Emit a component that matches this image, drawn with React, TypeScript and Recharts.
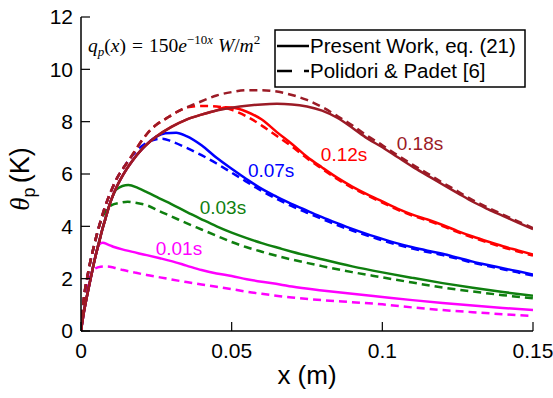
import React from 'react';
import { LineChart, Line, XAxis, YAxis, Label, ReferenceDot, Customized } from 'recharts';

type Pt = [number, number];

// x ticks (m) and y ticks (K)
const xTicks = [0, 0.05, 0.1, 0.15];
const yTicks = [0, 2, 4, 6, 8, 10, 12];

// common rising part of the solid curves
const solidRise: Pt[] = [
  [0, 0], [0.001, 0.75], [0.002, 1.35], [0.003, 1.9], [0.004, 2.45], [0.005, 2.95],
  [0.006, 3.4], [0.007, 3.85], [0.008, 4.25], [0.009, 4.65], [0.01, 5.0], [0.012, 5.55],
  [0.014, 5.98], [0.017, 6.5], [0.02, 6.92], [0.025, 7.43], [0.03, 7.8], [0.035, 8.08],
  [0.04, 8.27], [0.045, 8.43],
];

// common rising part of the dashed curves
const dashedRise: Pt[] = [
  [0, 0], [0.001, 1.3], [0.002, 2.0], [0.003, 2.6], [0.004, 3.1], [0.006, 4.0],
  [0.008, 4.75], [0.01, 5.35], [0.012, 5.85], [0.014, 6.22], [0.016, 6.55], [0.018, 6.9],
  [0.02, 7.25], [0.022, 7.55], [0.025, 7.88], [0.028, 8.1], [0.03, 8.25], [0.033, 8.44],
  [0.035, 8.54],
];

const upTo = (pts: Pt[], xMax: number) => pts.filter((p) => p[0] <= xMax);

// t = 0.01 s
const magentaSolid: Pt[] = [
  ...upTo(solidRise, 0.005),
  [0.006, 3.3], [0.0072, 3.37], [0.009, 3.3], [0.0107, 3.22], [0.015, 3.08], [0.0218, 2.9],
  [0.0262, 2.78], [0.03, 2.67], [0.035, 2.5], [0.04, 2.33], [0.045, 2.2], [0.05, 2.1],
  [0.055, 1.98], [0.06, 1.88], [0.066, 1.78], [0.07, 1.7], [0.08, 1.55], [0.09, 1.42],
  [0.1, 1.3], [0.11, 1.18], [0.12, 1.07], [0.13, 0.97], [0.14, 0.88], [0.15, 0.8],
];
const magentaDashed: Pt[] = [
  [0, 0], [0.001, 1.1], [0.002, 1.7], [0.003, 2.07], [0.0046, 2.38], [0.0065, 2.46],
  [0.0085, 2.47], [0.011, 2.42], [0.014, 2.33], [0.018, 2.23], [0.0218, 2.14], [0.0262, 2.05],
  [0.03, 1.97], [0.035, 1.87], [0.04, 1.78], [0.045, 1.69], [0.05, 1.6], [0.055, 1.5],
  [0.06, 1.42], [0.066, 1.33], [0.07, 1.28], [0.08, 1.18], [0.09, 1.1], [0.1, 1.02],
  [0.11, 0.9], [0.12, 0.8], [0.13, 0.72], [0.14, 0.64], [0.15, 0.57],
];

// t = 0.03 s
const greenSolid: Pt[] = [
  ...upTo(solidRise, 0.01),
  [0.0118, 5.42], [0.0157, 5.58], [0.019, 5.46], [0.022, 5.3], [0.026, 5.07], [0.03, 4.85],
  [0.035, 4.55], [0.04, 4.27], [0.045, 4.0], [0.05, 3.76], [0.055, 3.55], [0.06, 3.36],
  [0.066, 3.16], [0.07, 3.03], [0.08, 2.74], [0.09, 2.47], [0.1, 2.24], [0.11, 2.03],
  [0.12, 1.83], [0.13, 1.65], [0.14, 1.49], [0.15, 1.35],
];
const greenDashed: Pt[] = [
  ...upTo(dashedRise, 0.006),
  [0.008, 4.55], [0.01, 4.8], [0.013, 4.9], [0.0155, 4.94], [0.018, 4.9], [0.022, 4.8],
  [0.026, 4.58], [0.03, 4.38], [0.035, 4.12], [0.04, 3.88], [0.045, 3.64], [0.05, 3.4],
  [0.055, 3.2], [0.06, 3.03], [0.066, 2.84], [0.07, 2.73], [0.08, 2.48], [0.09, 2.25],
  [0.1, 2.05], [0.11, 1.85], [0.12, 1.66], [0.13, 1.51], [0.14, 1.37], [0.15, 1.25],
];

// t = 0.07 s
const blueSolid: Pt[] = [
  ...upTo(solidRise, 0.025),
  [0.028, 7.56], [0.0316, 7.58], [0.035, 7.45], [0.04, 7.1], [0.045, 6.62], [0.05, 6.2],
  [0.055, 5.8], [0.06, 5.43], [0.065, 5.13], [0.07, 4.85], [0.075, 4.6], [0.08, 4.35],
  [0.085, 4.12], [0.09, 3.9], [0.095, 3.7], [0.1, 3.52], [0.105, 3.35], [0.11, 3.2],
  [0.115, 3.07], [0.12, 2.95], [0.125, 2.8], [0.13, 2.65], [0.135, 2.52], [0.14, 2.4],
  [0.145, 2.28], [0.15, 2.16],
];
const blueDashed: Pt[] = [
  ...upTo(dashedRise, 0.016),
  [0.02, 7.05], [0.024, 7.3], [0.027, 7.35], [0.03, 7.25], [0.035, 7.0], [0.04, 6.72],
  [0.045, 6.4], [0.05, 6.05], [0.055, 5.7], [0.06, 5.35], [0.065, 5.05], [0.07, 4.77],
  [0.075, 4.52], [0.08, 4.28], [0.085, 4.05], [0.09, 3.84], [0.095, 3.65], [0.1, 3.46],
  [0.105, 3.3], [0.11, 3.15], [0.115, 3.02], [0.12, 2.9], [0.125, 2.76], [0.13, 2.61],
  [0.135, 2.48], [0.14, 2.36], [0.145, 2.24], [0.15, 2.12],
];

// t = 0.12 s
const redSolid: Pt[] = [
  ...upTo(solidRise, 0.045),
  [0.048, 8.55], [0.05, 8.54], [0.055, 8.38], [0.06, 8.08], [0.065, 7.6], [0.07, 7.15],
  [0.075, 6.66], [0.08, 6.25], [0.085, 5.86], [0.09, 5.52], [0.095, 5.22], [0.1, 4.95],
  [0.105, 4.68], [0.11, 4.45], [0.115, 4.26], [0.12, 4.05], [0.125, 3.82], [0.13, 3.61],
  [0.135, 3.42], [0.14, 3.24], [0.145, 3.08], [0.15, 2.92],
];
const redDashed: Pt[] = [
  ...upTo(dashedRise, 0.035),
  [0.04, 8.6], [0.045, 8.58], [0.05, 8.45], [0.055, 8.2], [0.06, 7.85], [0.065, 7.45],
  [0.07, 7.05], [0.075, 6.6], [0.08, 6.2], [0.085, 5.81], [0.09, 5.47], [0.095, 5.18],
  [0.1, 4.91], [0.105, 4.64], [0.11, 4.41], [0.115, 4.22], [0.12, 4.01], [0.125, 3.78],
  [0.13, 3.57], [0.135, 3.38], [0.14, 3.2], [0.145, 3.04], [0.15, 2.88],
];

// t = 0.18 s
const darkRedSolid: Pt[] = [
  ...solidRise,
  [0.05, 8.53], [0.055, 8.61], [0.06, 8.66], [0.065, 8.68], [0.07, 8.66], [0.075, 8.58],
  [0.08, 8.42], [0.085, 8.15], [0.09, 7.77], [0.095, 7.36], [0.1, 7.02], [0.105, 6.65],
  [0.11, 6.28], [0.115, 5.94], [0.12, 5.6], [0.125, 5.27], [0.13, 4.94], [0.135, 4.66],
  [0.14, 4.4], [0.145, 4.14], [0.15, 3.89],
];
const darkRedDashed: Pt[] = [
  ...dashedRise,
  [0.037, 8.64], [0.04, 8.78], [0.045, 9.0], [0.05, 9.13], [0.055, 9.2], [0.06, 9.2],
  [0.065, 9.15], [0.07, 9.02], [0.075, 8.83], [0.08, 8.56], [0.085, 8.22], [0.09, 7.86],
  [0.095, 7.46], [0.1, 7.1], [0.105, 6.72], [0.11, 6.36], [0.115, 6.02], [0.12, 5.67],
  [0.125, 5.34], [0.13, 5.0], [0.135, 4.72], [0.14, 4.45], [0.145, 4.19], [0.15, 3.93],
];

const MAGENTA = '#ff00ff';
const GREEN = '#0f7f0f';
const BLUE = '#0000ff';
const RED = '#ff0000';
const DARKRED = '#9b1b26';

const series = [
  { key: 'm-d', pts: magentaDashed, color: MAGENTA, dashed: true },
  { key: 'm-s', pts: magentaSolid, color: MAGENTA, dashed: false },
  { key: 'g-d', pts: greenDashed, color: GREEN, dashed: true },
  { key: 'g-s', pts: greenSolid, color: GREEN, dashed: false },
  { key: 'b-d', pts: blueDashed, color: BLUE, dashed: true },
  { key: 'b-s', pts: blueSolid, color: BLUE, dashed: false },
  { key: 'r-d', pts: redDashed, color: RED, dashed: true },
  { key: 'r-s', pts: redSolid, color: RED, dashed: false },
  { key: 'dr-d', pts: darkRedDashed, color: DARKRED, dashed: true },
  { key: 'dr-s', pts: darkRedSolid, color: DARKRED, dashed: false },
];

// curve labels (text, x, y)
const timeLabels = [
  { text: '0.01s', x: 0.0325, y: 3.17, color: MAGENTA },
  { text: '0.03s', x: 0.0471, y: 4.74, color: GREEN },
  { text: '0.07s', x: 0.0631, y: 6.15, color: BLUE },
  { text: '0.12s', x: 0.0873, y: 6.76, color: RED },
  { text: '0.18s', x: 0.1125, y: 7.18, color: DARKRED },
];

const SANS = '"Liberation Sans", Arial, sans-serif';
const SERIF = '"Liberation Serif", "Times New Roman", serif';

const Overlay = () => (
  <g>
    {/* heat flux formula */}
    <text x={88} y={52} fontFamily={SERIF} fontSize={19.5} fill="#000">
      <tspan fontStyle="italic">q</tspan>
      <tspan fontStyle="italic" fontSize={13} dy={4}>p</tspan>
      <tspan dy={-4}>(</tspan>
      <tspan fontStyle="italic">x</tspan>
      <tspan>)</tspan>
      <tspan dx={6}>=</tspan>
      <tspan dx={6}>150</tspan>
      <tspan fontStyle="italic">e</tspan>
      <tspan fontSize={13} dy={-8}>−10</tspan>
      <tspan fontSize={13} fontStyle="italic">x</tspan>
      <tspan dy={8} dx={5} fontStyle="italic">W</tspan>
      <tspan>/</tspan>
      <tspan fontStyle="italic">m</tspan>
      <tspan fontSize={13} dy={-8}>2</tspan>
    </text>
    {/* y axis title */}
    <text
      x={29}
      y={179}
      transform="rotate(-90, 29, 179)"
      textAnchor="middle"
      fontSize={27}
      fontFamily={SANS}
      fill="#000"
    >
      <tspan fontFamily={SERIF} fontStyle="italic">θ</tspan>
      <tspan fontSize={18} dy={6}>p</tspan>
      <tspan dy={-6} dx={4}>(K)</tspan>
    </text>
    {/* legend */}
    <rect x={275} y={30} width={250} height={57} fill="#fff" stroke="#000" strokeWidth={1.5} />
    <line x1={277} x2={309} y1={46} y2={46} stroke="#000" strokeWidth={2.5} />
    <text x={310} y={53} fontSize={20.5} fontFamily={SANS} fill="#000">Present Work, eq. (21)</text>
    <line x1={277} x2={309} y1={71} y2={71} stroke="#000" strokeWidth={2.5} strokeDasharray="15 12" />
    <text x={310} y={78} fontSize={20.5} fontFamily={SANS} fill="#000">Polidori &amp; Padet [6]</text>
  </g>
);

const axisLine = { stroke: '#000', strokeWidth: 1.5 };
const tickLine = { stroke: '#000', strokeWidth: 1.2 };

export default function App() {
  return (
    <div style={{ position: 'absolute', left: 0, top: 0, width: 553, height: 398, background: '#fff' }}>
      <LineChart width={553} height={398} margin={{ top: 17, right: 20, bottom: 0, left: 0 }}>
        <XAxis
          xAxisId="b"
          dataKey="x"
          type="number"
          domain={[0, 0.15]}
          ticks={xTicks}
          allowDataOverflow
          height={67}
          tickSize={-9}
          tickMargin={21}
          axisLine={axisLine}
          tickLine={tickLine}
          tick={{ fill: '#000', fontSize: 21, fontFamily: SANS }}
          tickFormatter={(v) => String(v)}
        >
          <Label value="x (m)" position="insideBottom" offset={14} fill="#000" fontSize={26} fontFamily={SANS} />
        </XAxis>
        <XAxis
          xAxisId="t"
          orientation="top"
          type="number"
          domain={[0, 0.15]}
          ticks={xTicks}
          height={0}
          tickSize={-9}
          tick={false}
          axisLine={axisLine}
          tickLine={tickLine}
        />
        <YAxis
          yAxisId="l"
          type="number"
          domain={[0, 12]}
          ticks={yTicks}
          width={81}
          tickSize={-9}
          tickMargin={17}
          axisLine={axisLine}
          tickLine={tickLine}
          tick={{ fill: '#000', fontSize: 21, fontFamily: SANS }}
        />
        <YAxis
          yAxisId="r"
          orientation="right"
          type="number"
          domain={[0, 12]}
          ticks={yTicks}
          width={0}
          tickSize={-9}
          tick={false}
          axisLine={axisLine}
          tickLine={tickLine}
        />
        {series.map((s) => (
          <Line
            key={s.key}
            xAxisId="b"
            yAxisId="l"
            data={s.pts.map(([x, y]) => ({ x, y }))}
            dataKey="y"
            type="monotone"
            stroke={s.color}
            strokeWidth={2.5}
            strokeDasharray={s.dashed ? '8 5' : undefined}
            dot={false}
            activeDot={false}
            isAnimationActive={false}
          />
        ))}
        {timeLabels.map((l) => (
          <ReferenceDot
            key={l.text}
            xAxisId="b"
            yAxisId="l"
            x={l.x}
            y={l.y}
            r={0}
            fill="none"
            stroke="none"
            label={{ value: l.text, position: 'center', fill: l.color, fontSize: 19, fontFamily: SANS }}
          />
        ))}
        <Customized component={Overlay} />
      </LineChart>
    </div>
  );
}
